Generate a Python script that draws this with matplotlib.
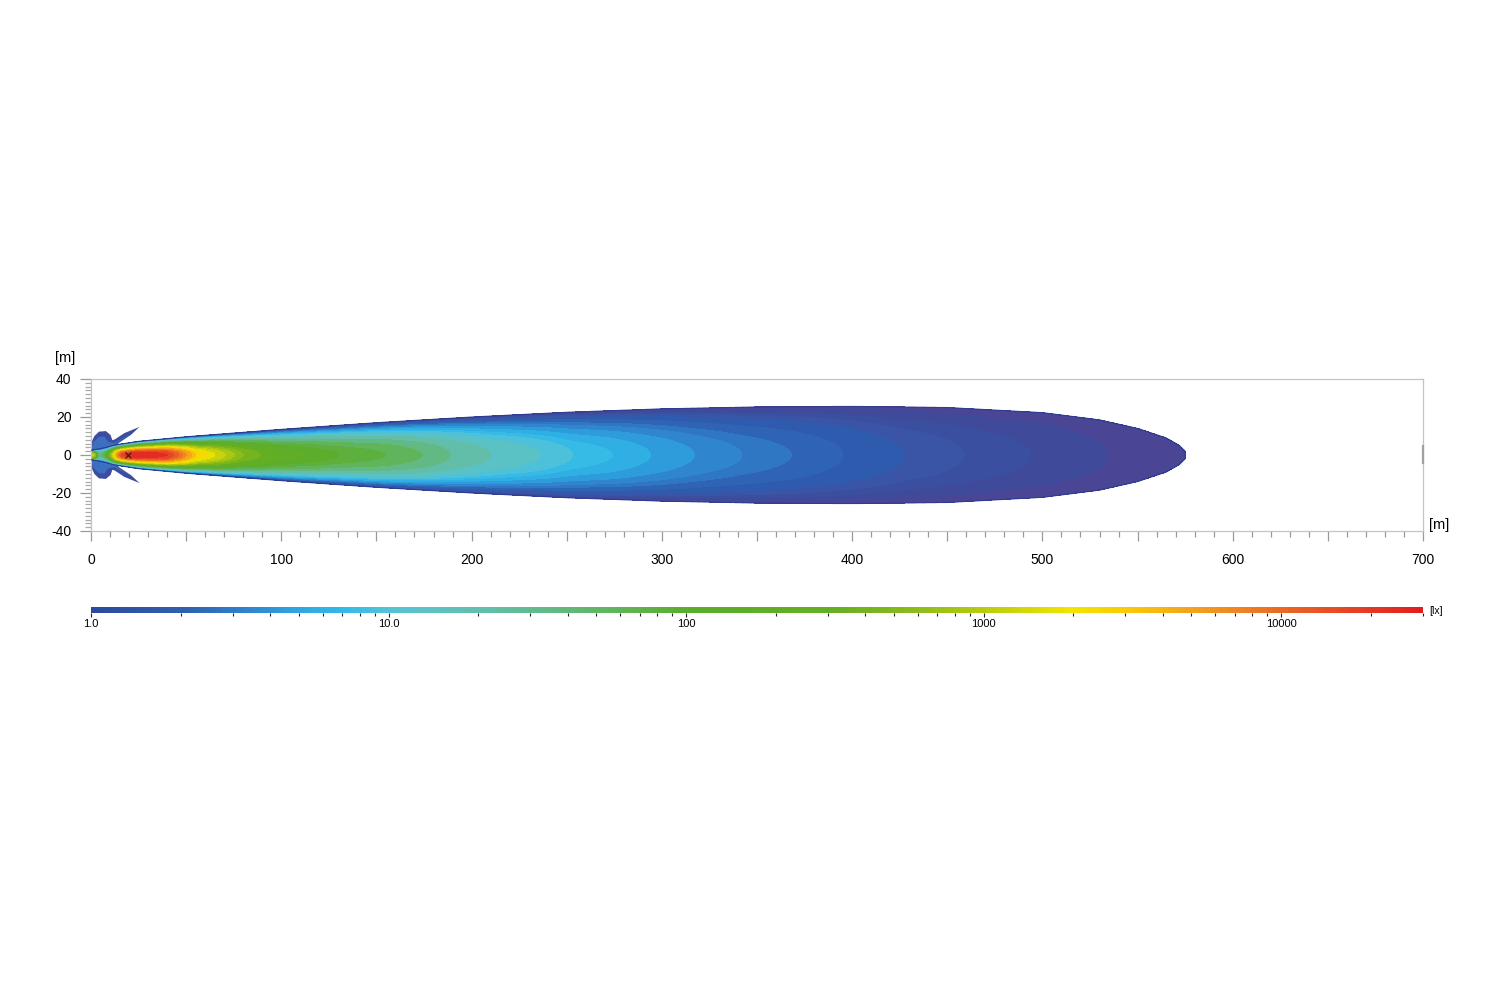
import numpy as np
import matplotlib
matplotlib.use("Agg")
import matplotlib.pyplot as plt
from matplotlib.colors import LinearSegmentedColormap, LogNorm
from matplotlib.cm import ScalarMappable
from matplotlib.ticker import MultipleLocator, FixedLocator, LogLocator, FuncFormatter

plt.rcParams['font.family'] = ['Liberation Sans', 'DejaVu Sans']
plt.rcParams['axes.unicode_minus'] = False

# colour scale of the legend bar (lux -> colour)
scale_lux = [1.0, 2.0, 3.0, 5.0, 7.0, 10, 20, 40, 70, 100, 300, 600,
             1000, 2000, 3000, 5000, 10000, 20000, 30000]
scale_colors = ['#2b4a9f', '#2f5fb0', '#2f7cc8', '#2ea8e2', '#33bae8', '#55c3d5',
                '#62bfae', '#62b87a', '#5fb24a', '#5aad2d', '#64ae22', '#8cbc1a',
                '#b7cc10', '#f2e500', '#fbcb05', '#f4a41c', '#ea6a24', '#e43a24', '#e21d1f']
lux_min, lux_max = 1.0, 30000.0
cbar_ticks = [1, 10, 100, 1000, 10000]
cbar_labels = ['1.0', '10.0', '100', '1000', '10000']

# illuminance along the beam axis (distance in m, lux)
axial_dist = [0, 2, 4, 7, 10, 13, 16, 20, 30, 40, 48, 55, 65, 80, 100, 130, 155,
              174, 189, 210, 236, 253, 274, 294, 317, 342, 368, 395, 427, 459, 494, 534, 575]
axial_lux = [1500, 800, 30, 60, 400, 4000, 15000, 25000, 28000, 20000, 8000, 3000,
             1500, 500, 200, 100, 70, 45, 28, 17, 11, 8, 6.5, 5, 3.8, 3.0, 2.5, 2.0,
             1.6, 1.4, 1.25, 1.1, 1.0]

# half width of the 1 lx boundary (m)
edge_dist = [0, 3, 8, 12, 25, 50, 100, 150, 200, 250, 300, 350, 400, 450, 500,
             530, 550, 565, 572, 575, 575.5]
edge_halfwidth = [2.5, 3.0, 4.0, 5.2, 7.2, 9.6, 13.5, 17.0, 20.0, 22.5, 24.3, 25.3,
                  25.6, 25.0, 22.3, 18.5, 14.0, 9.0, 5.0, 2.0, 0.0]

# isolux levels (lux)
isolux_levels = [1.0, 1.1, 1.25, 1.4, 1.6, 2.0, 2.5, 3.0, 3.8, 5.0, 6.5, 8.0, 11,
                 17, 28, 45, 70, 100, 150, 220, 330, 500, 700, 1000, 1500, 2000,
                 3000, 4000, 6000, 8000, 10000, 14000, 20000, 30000]
low_band_colors = ['#4b4596', '#3f4a9a', '#3b4fa0', '#3a55a5']

# spill light lobes beside the lamp (upper side, mirrored below)
lobe_x = [0.0, 0.6, 1.8, 4.2, 7.8, 10.3, 11.2, 12.5, 17.5, 25.5, 21.0, 15.0, 11.5, 6.0, 2.0]
lobe_y = [3.0, 7.5, 10.0, 12.3, 12.6, 10.5, 7.8, 8.2, 11.5, 14.8, 10.6, 6.6, 3.8, 3.2, 2.6]
lobe_in_x = [0.5, 1.5, 4.0, 7.0, 9.0, 12.0, 18.0, 22.5, 16.0, 11.0, 5.0, 2.0]
lobe_in_y = [3.5, 7.0, 9.5, 9.8, 7.0, 6.3, 9.5, 12.0, 8.0, 4.5, 3.3, 3.0]

aim_x, aim_y = 19.5, 0.0

lateral_exp = 2.0

# colour map on a log scale
norm = LogNorm(lux_min, lux_max)
pos = (np.log10(scale_lux) - np.log10(lux_min)) / (np.log10(lux_max) - np.log10(lux_min))
cmap = LinearSegmentedColormap.from_list('lux', list(zip(pos, scale_colors)))

# illuminance field built from axial values and beam width
x = np.linspace(0, 700, 2801)
y = np.linspace(-40, 40, 1201)
X, Y = np.meshgrid(x, y)
log_axis = np.interp(x, axial_dist, np.log10(axial_lux))
width = np.interp(x, edge_dist, edge_halfwidth, right=0.0)
t = np.abs(Y) / np.maximum(width, 1e-6)
log_e = np.where(t < 1, log_axis * (1 - t ** lateral_exp), -1.0)
E = 10 ** log_e

band_colors = [cmap(norm(np.sqrt(a * b))) for a, b in zip(isolux_levels[:-1], isolux_levels[1:])]
band_colors[:len(low_band_colors)] = low_band_colors

fig = plt.figure(figsize=(15, 10), dpi=100)
ax = fig.add_axes([91 / 1500, 1 - 531 / 1000, 1332 / 1500, 152 / 1000])

ax.fill(lobe_x, lobe_y, color='#3d4c9f', lw=0, zorder=1)
ax.fill(lobe_x, [-v for v in lobe_y], color='#3d4c9f', lw=0, zorder=1)
ax.fill(lobe_in_x, lobe_in_y, color='#3a6fc2', lw=0, zorder=1)
ax.fill(lobe_in_x, [-v for v in lobe_in_y], color='#3a6fc2', lw=0, zorder=1)

ax.contourf(X, Y, E, levels=isolux_levels, colors=band_colors, zorder=2)
ax.contour(X, Y, E, levels=[1.0], colors='#2d3d8f', linewidths=0.8, zorder=3)
ax.plot(aim_x, aim_y, marker='x', color='#222222', ms=4, mew=0.8, zorder=4)

ax.set_xlim(0, 700)
ax.set_ylim(-40, 40)
for s in ax.spines.values():
    s.set_color('#c4c4c4')
    s.set_linewidth(0.9)
ax.plot([700, 700], [-4.2, 4.7], color='#a0a0a0', lw=1.6, clip_on=False, zorder=5)

ax.xaxis.set_major_locator(MultipleLocator(50))
ax.xaxis.set_minor_locator(MultipleLocator(10))
ax.xaxis.set_major_formatter(FuncFormatter(lambda v, p: f'{v:.0f}' if v % 100 == 0 else ''))
ax.yaxis.set_major_locator(MultipleLocator(20))
ax.yaxis.set_minor_locator(MultipleLocator(2))
ax.tick_params(axis='x', which='major', length=7, width=0.9, color='#999999', pad=8.5, labelsize=10)
ax.tick_params(axis='x', which='minor', length=4, width=0.9, color='#999999')
ax.tick_params(axis='y', which='major', length=8, width=0.9, color='#999999', pad=6, labelsize=10)
ax.tick_params(axis='y', which='minor', length=4, width=0.9, color='#aaaaaa')

fig.text(65 / 1500, 1 - 358 / 1000, '[m]', fontsize=10.5, ha='center', va='center')
fig.text(1439 / 1500, 1 - 525 / 1000, '[m]', fontsize=10.5, ha='center', va='center')

# colour bar
cax = fig.add_axes([91 / 1500, 1 - 613 / 1000, 1332 / 1500, 6 / 1000])
cb = fig.colorbar(ScalarMappable(norm=norm, cmap=cmap), cax=cax, orientation='horizontal')
cb.outline.set_visible(False)
cax.xaxis.set_major_locator(FixedLocator(cbar_ticks))
cax.xaxis.set_major_formatter(FuncFormatter(lambda v, p: dict(zip(cbar_ticks, cbar_labels)).get(int(round(v)), '')))
cax.xaxis.set_minor_locator(LogLocator(base=10, subs=np.arange(2, 10)))
cax.xaxis.set_minor_formatter(FuncFormatter(lambda v, p: ''))
cax.tick_params(axis='x', which='major', length=3, width=0.8, color='#222222', pad=1.5, labelsize=8)
cax.tick_params(axis='x', which='minor', length=2.5, width=0.8, color='#222222')
fig.text(1436 / 1500, 1 - 611 / 1000, '[lx]', fontsize=7.5, ha='center', va='center')

fig.savefig('out.png', dpi=100)
